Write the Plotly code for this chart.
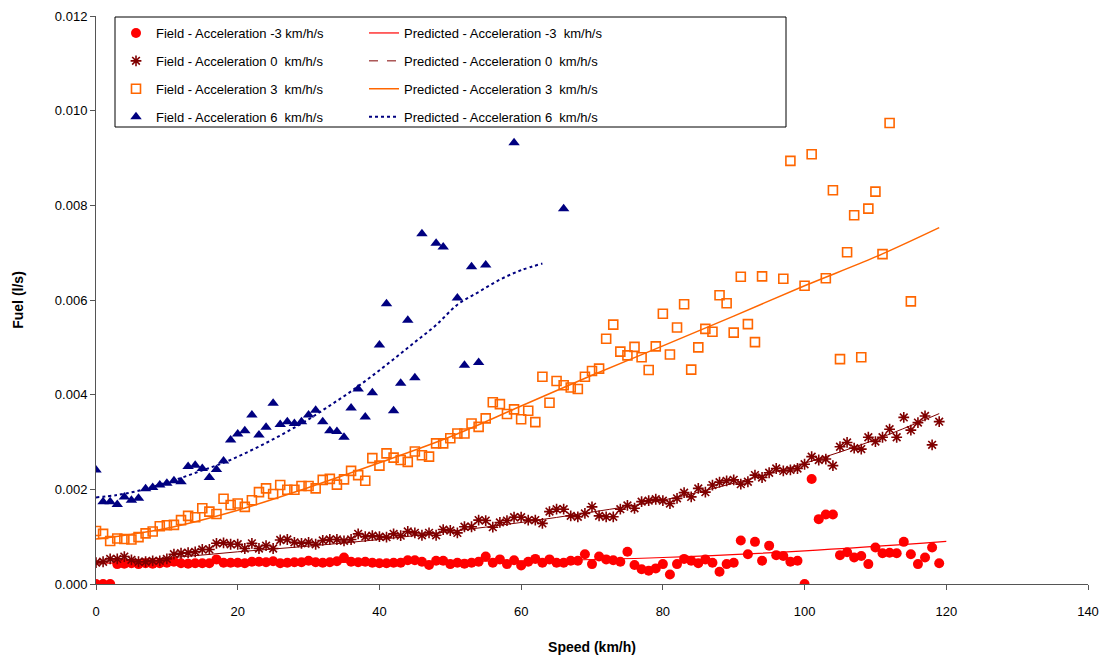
import plotly.graph_objects as go

# ---------------- data ----------------
speed_m3 = [0, 1, 2, 3, 4, 5, 6, 7, 8, 9, 10, 11, 12, 13, 14, 15, 16, 17, 18, 19,
            20, 21, 22, 23, 24, 25, 26, 27, 28, 29, 30, 31, 32, 33, 34, 35, 36, 37, 38, 39,
            40, 41, 42, 43, 44, 45, 46, 47, 48, 49, 50, 51, 52, 53, 54, 55, 56, 57, 58, 59,
            60, 61, 62, 63, 64, 65, 66, 67, 68, 69, 70, 71, 72, 73, 74, 75, 76, 77, 78, 79,
            80, 81, 82, 83, 84, 85, 86, 87, 88, 89, 90, 91, 92, 93, 94, 95, 96, 97, 98, 99,
            100, 101, 102, 103, 104, 105, 106, 107, 108, 109, 110, 111, 112, 113, 114, 115,
            116, 117, 118, 119]
fuel_m3 = [0, 0, 0, 0.00042, 0.00043, 0.00044, 0.00042, 0.00044, 0.00043, 0.00044,
           0.00045, 0.00047, 0.00044, 0.00043, 0.00044, 0.00044, 0.00044, 0.00052, 0.00045, 0.00045,
           0.00045, 0.00044, 0.00047, 0.00047, 0.00046, 0.00048, 0.00044, 0.00045, 0.00046, 0.00046,
           0.00049, 0.00046, 0.00045, 0.00046, 0.00048, 0.00056, 0.00047, 0.00046, 0.00047, 0.00045,
           0.00044, 0.00044, 0.00045, 0.00045, 0.00050, 0.00050, 0.00047, 0.00040, 0.00049, 0.00049,
           0.00042, 0.00045, 0.00043, 0.00045, 0.00047, 0.00058, 0.00045, 0.00052, 0.00042, 0.00050,
           0.00039, 0.00047, 0.00053, 0.00045, 0.00052, 0.00045, 0.00045, 0.00049, 0.00049, 0.00063,
           0.00042, 0.00058, 0.00052, 0.00050, 0.00047, 0.00068, 0.00040, 0.00031, 0.00028, 0.00033,
           0.00042, 0.00020, 0.00042, 0.00053, 0.00049, 0.00044, 0.00052, 0.00045, 0.00026, 0.00042,
           0.00045, 0.00092, 0.00063, 0.00089, 0.00049, 0.00081, 0.00061, 0.00059, 0.00047, 0.00049,
           0, 0.00222, 0.00137, 0.00147, 0.00147, 0.00061, 0.00067, 0.00056, 0.00059, 0.00042,
           0.00077, 0.00065, 0.00066, 0.00065, 0.00089, 0.00063, 0.00042, 0.00056, 0.00077, 0.00044]

speed_0 = [0, 1, 2, 3, 4, 5, 6, 7, 8, 9, 10, 11, 12, 13, 14, 15, 16, 17, 18, 19,
           20, 21, 22, 23, 24, 25, 26, 27, 28, 29, 30, 31, 32, 33, 34, 35, 36, 37, 38, 39,
           40, 41, 42, 43, 44, 45, 46, 47, 48, 49, 50, 51, 52, 53, 54, 55, 56, 57, 58, 59,
           60, 61, 62, 63, 64, 65, 66, 67, 68, 69, 70, 71, 72, 73, 74, 75, 76, 77, 78, 79,
           80, 81, 82, 83, 84, 85, 86, 87, 88, 89, 90, 91, 92, 93, 94, 95, 96, 97, 98, 99,
           100, 101, 102, 103, 104, 105, 106, 107, 108, 109, 110, 111, 112, 113, 114, 115,
           116, 117, 118, 119]
fuel_0 = [0.00045, 0.00047, 0.00053, 0.00053, 0.00058, 0.00051, 0.00047, 0.00047, 0.00049, 0.00049,
          0.00053, 0.00063, 0.00065, 0.00066, 0.00068, 0.00073, 0.00073, 0.00086, 0.00087, 0.00084,
          0.00084, 0.00075, 0.00086, 0.00075, 0.00081, 0.00075, 0.00093, 0.00094, 0.00088, 0.00086,
          0.00088, 0.00084, 0.00092, 0.00094, 0.00094, 0.00091, 0.00094, 0.00106, 0.00100, 0.00102,
          0.00100, 0.00099, 0.00106, 0.00102, 0.00111, 0.00108, 0.00103, 0.00108, 0.00103, 0.00115,
          0.00113, 0.00108, 0.00121, 0.00121, 0.00135, 0.00134, 0.00120, 0.00130, 0.00134, 0.00141,
          0.00141, 0.00135, 0.00135, 0.00128, 0.00153, 0.00158, 0.00158, 0.00144, 0.00142, 0.00149,
          0.00163, 0.00144, 0.00142, 0.00142, 0.00158, 0.00166, 0.00160, 0.00174, 0.00176, 0.00179,
          0.00176, 0.00170, 0.00181, 0.00193, 0.00184, 0.00202, 0.00194, 0.00209, 0.00215, 0.00218,
          0.00220, 0.00211, 0.00216, 0.00230, 0.00225, 0.00235, 0.00244, 0.00239, 0.00241, 0.00244,
          0.00253, 0.00269, 0.00262, 0.00264, 0.00250, 0.00290, 0.00299, 0.00287, 0.00285, 0.00310,
          0.00301, 0.00310, 0.00327, 0.00310, 0.00352, 0.00325, 0.00341, 0.00355, 0.00294, 0.00343]

speed_3 = [0, 1, 2, 3, 4, 5, 6, 7, 8, 9, 10, 11, 12, 13, 14, 15, 16, 17, 18, 19,
           20, 21, 22, 23, 24, 25, 26, 27, 28, 29, 30, 31, 32, 33, 34, 35, 36, 37, 38, 39,
           40, 41, 42, 43, 44, 45, 46, 47, 48, 49, 50, 51, 52, 53, 54, 55, 56, 57, 58, 59,
           60, 61, 62, 63, 64, 65, 66, 67, 68, 69, 70, 71, 72, 73, 74, 75, 76, 77, 78, 79,
           80, 81, 82, 83, 84, 85, 86, 87, 88, 89, 90, 91, 92, 93, 94, 97, 98, 100, 101,
           103, 104, 105, 106, 107, 108, 109, 110, 111, 112, 115]
fuel_3 = [0.00112, 0.00106, 0.00091, 0.00096, 0.00095, 0.00094, 0.00099, 0.00107, 0.00111, 0.00122,
          0.00124, 0.00125, 0.00135, 0.00144, 0.00141, 0.00160, 0.00153, 0.00148, 0.00180, 0.00167,
          0.00170, 0.00163, 0.00177, 0.00194, 0.00202, 0.00190, 0.00209, 0.00199, 0.00199, 0.00207,
          0.00207, 0.00202, 0.00220, 0.00222, 0.00210, 0.00221, 0.00239, 0.00230, 0.00218, 0.00266,
          0.00250, 0.00276, 0.00267, 0.00262, 0.00258, 0.00280, 0.00272, 0.00269, 0.00297, 0.00297,
          0.00308, 0.00318, 0.00318, 0.00339, 0.00332, 0.00350, 0.00384, 0.00380, 0.00359, 0.00369,
          0.00348, 0.00366, 0.00342, 0.00438, 0.00383, 0.00429, 0.00420, 0.00415, 0.00412, 0.00438,
          0.00450, 0.00455, 0.00518, 0.00548, 0.00491, 0.00483, 0.00501, 0.00479, 0.00452, 0.00502,
          0.00571, 0.00485, 0.00542, 0.00591, 0.00453, 0.00500, 0.00539, 0.00533, 0.00610, 0.00593,
          0.00531, 0.00649, 0.00549, 0.00511, 0.00650, 0.00645, 0.00894, 0.00630, 0.00908,
          0.00646, 0.00832, 0.00475, 0.00701, 0.00779, 0.00479, 0.00793, 0.00829, 0.00697, 0.00974,
          0.00597]

speed_6 = [0, 1, 2, 3, 4, 5, 6, 7, 8, 9, 10, 11, 12, 13, 14, 15, 16, 17, 18, 19,
           20, 21, 22, 23, 24, 25, 26, 27, 28, 29, 30, 31, 32, 33, 34, 35, 36, 37, 38, 39,
           40, 41, 42, 43, 44, 45, 46, 48, 49, 51, 52, 53, 54, 55, 59, 66]
fuel_6 = [0.00241, 0.00174, 0.00174, 0.00168, 0.00184, 0.00177, 0.00181, 0.00201, 0.00204, 0.00209,
          0.00213, 0.00218, 0.00216, 0.00248, 0.00251, 0.00244, 0.00225, 0.00242, 0.00260, 0.00304,
          0.00317, 0.00324, 0.00357, 0.00315, 0.00331, 0.00382, 0.00337, 0.00343, 0.00339, 0.00343,
          0.00357, 0.00367, 0.00343, 0.00324, 0.00322, 0.00310, 0.00372, 0.00412, 0.00353, 0.00404,
          0.00505, 0.00592, 0.00366, 0.00424, 0.00557, 0.00436, 0.00740, 0.00720, 0.00712, 0.00604,
          0.00462, 0.00670, 0.00468, 0.00674, 0.00932, 0.00793]

# predicted curves
pred_m3_x = [0, 20, 40, 60, 80, 100, 120]
pred_m3_y = [0.00044, 0.00045, 0.00046, 0.00049, 0.00056, 0.00070, 0.00090]
pred_0_x = [0, 10, 20, 30, 40, 50, 60, 70, 80, 90, 100, 110, 119]
pred_0_y = [0.00048, 0.00055, 0.00068, 0.00080, 0.00094, 0.00111, 0.00130, 0.00152, 0.00177,
            0.00213, 0.00255, 0.00305, 0.00360]
pred_3_x = [0, 10, 20, 30, 40, 50, 60, 70, 80, 90, 100, 110, 119]
pred_3_y = [0.00095, 0.00118, 0.00156, 0.00204, 0.00256, 0.00311, 0.00376, 0.00441, 0.00503,
            0.00566, 0.00630, 0.00691, 0.00753]
pred_6_x = [0, 3, 6, 9, 12, 15, 18, 21, 24, 27, 30, 33, 36, 39, 42, 45, 48, 51, 54, 57, 60, 63]
pred_6_y = [0.00183, 0.00188, 0.00197, 0.00210, 0.00224, 0.00240, 0.00256, 0.00276, 0.00298,
            0.00322, 0.00348, 0.00377, 0.00407, 0.00440, 0.00475, 0.00511, 0.00547, 0.00590,
            0.00617, 0.00643, 0.00663, 0.00677]

NB = "\u00a0"
field_names = ["Field - Acceleration -3 km/h/s",
               "Field - Acceleration 0 " + NB + "km/h/s",
               "Field - Acceleration 3 " + NB + "km/h/s",
               "Field - Acceleration 6 " + NB + "km/h/s"]
pred_names = ["Predicted - Acceleration -3 " + NB + "km/h/s",
              "Predicted - Acceleration 0 " + NB + "km/h/s",
              "Predicted - Acceleration 3 " + NB + "km/h/s",
              "Predicted - Acceleration 6 " + NB + "km/h/s"]

RED = "#FF0000"
DRED = "#800000"
ORANGE = "#FF6600"
NAVY = "#000080"

fig = go.Figure()

# predicted lines (drawn first, under markers)
fig.add_trace(go.Scatter(x=pred_m3_x, y=pred_m3_y, mode="lines", line=dict(color=RED, width=1.2, shape="spline"),
                         name=pred_names[0], legend="legend2", legendgroup="p1"))
fig.add_trace(go.Scatter(x=pred_0_x, y=pred_0_y, mode="lines", line=dict(color=DRED, width=1, shape="spline"),
                         name=pred_names[1], legend="legend2", legendgroup="p2", showlegend=False))
fig.add_trace(go.Scatter(x=[None], y=[None], mode="lines", line=dict(color=DRED, width=1, dash="dash"),
                         name=pred_names[1], legend="legend2", legendgroup="p2"))
fig.add_trace(go.Scatter(x=pred_3_x, y=pred_3_y, mode="lines", line=dict(color=ORANGE, width=1.5, shape="spline"),
                         name=pred_names[2], legend="legend2", legendgroup="p3"))
fig.add_trace(go.Scatter(x=pred_6_x, y=pred_6_y, mode="lines", line=dict(color=NAVY, width=2, dash="dot", shape="spline"),
                         name=pred_names[3], legend="legend2", legendgroup="p4"))

# field markers
fig.add_trace(go.Scatter(x=speed_m3, y=fuel_m3, mode="markers",
                         marker=dict(symbol="circle", size=10, color=RED),
                         name=field_names[0], legend="legend", legendgroup="f1"))
fig.add_trace(go.Scatter(x=speed_0, y=fuel_0, mode="markers",
                         marker=dict(symbol="asterisk-open", size=9, color=DRED, line=dict(color=DRED, width=1.6)),
                         name=field_names[1], legend="legend", legendgroup="f2"))
fig.add_trace(go.Scatter(x=speed_3, y=fuel_3, mode="markers",
                         marker=dict(symbol="square-open", size=9, color=ORANGE, line=dict(color=ORANGE, width=1.6)),
                         name=field_names[2], legend="legend", legendgroup="f3"))
fig.add_trace(go.Scatter(x=speed_6, y=fuel_6, mode="markers",
                         marker=dict(symbol="triangle-up", size=10, color=NAVY),
                         name=field_names[3], legend="legend", legendgroup="f4"))

FONT = "Liberation Sans, Arial, sans-serif"
L, R, T, B = 96, 20, 16, 80
W, H = 1108, 664
pw, ph = W - L - R, H - T - B

def px2paper_x(px):
    return (px - L) / pw

def px2paper_y(py):
    return (H - B - py) / ph

legend_common = dict(font=dict(family=FONT, size=13, color="black"), bgcolor="rgba(0,0,0,0)",
                     borderwidth=0, tracegroupgap=8, orientation="v",
                     xanchor="left", yanchor="top", traceorder="grouped")

fig.update_layout(
    width=W, height=H,
    margin=dict(l=L, r=R, t=T, b=B, autoexpand=False),
    paper_bgcolor="white", plot_bgcolor="white",
    font=dict(family=FONT, size=13, color="black"),
    legend=dict(x=px2paper_x(116), y=px2paper_y(18), **legend_common),
    legend2=dict(x=px2paper_x(364), y=px2paper_y(18), **legend_common),
    xaxis=dict(range=[0, 140], dtick=20, showgrid=False, zeroline=False, showline=True, automargin=False,
               linecolor="#555555", linewidth=1, ticks="outside", ticklen=5, tickcolor="#555555",
               tickfont=dict(family=FONT, size=13, color="black"), ticklabelstandoff=10,
               title=dict(text="<b>Speed (km/h)</b>", font=dict(family=FONT, size=14, color="black"), standoff=24)),
    yaxis=dict(range=[0, 0.012], dtick=0.002, tickformat=".3f", showgrid=False, zeroline=False,
               showline=True, automargin=False, linecolor="#555555", linewidth=1, ticks="outside", ticklen=5,
               tickcolor="#555555", tickfont=dict(family=FONT, size=13, color="black"),
               title=dict(text="<b>Fuel (l/s)</b>", font=dict(family=FONT, size=14, color="black"), standoff=27)),
    shapes=[dict(type="rect", xref="paper", yref="paper",
                 x0=px2paper_x(115), x1=px2paper_x(786), y0=px2paper_y(127), y1=px2paper_y(17),
                 line=dict(color="black", width=1), fillcolor="rgba(0,0,0,0)")],
)

fig.write_html("out.html")
